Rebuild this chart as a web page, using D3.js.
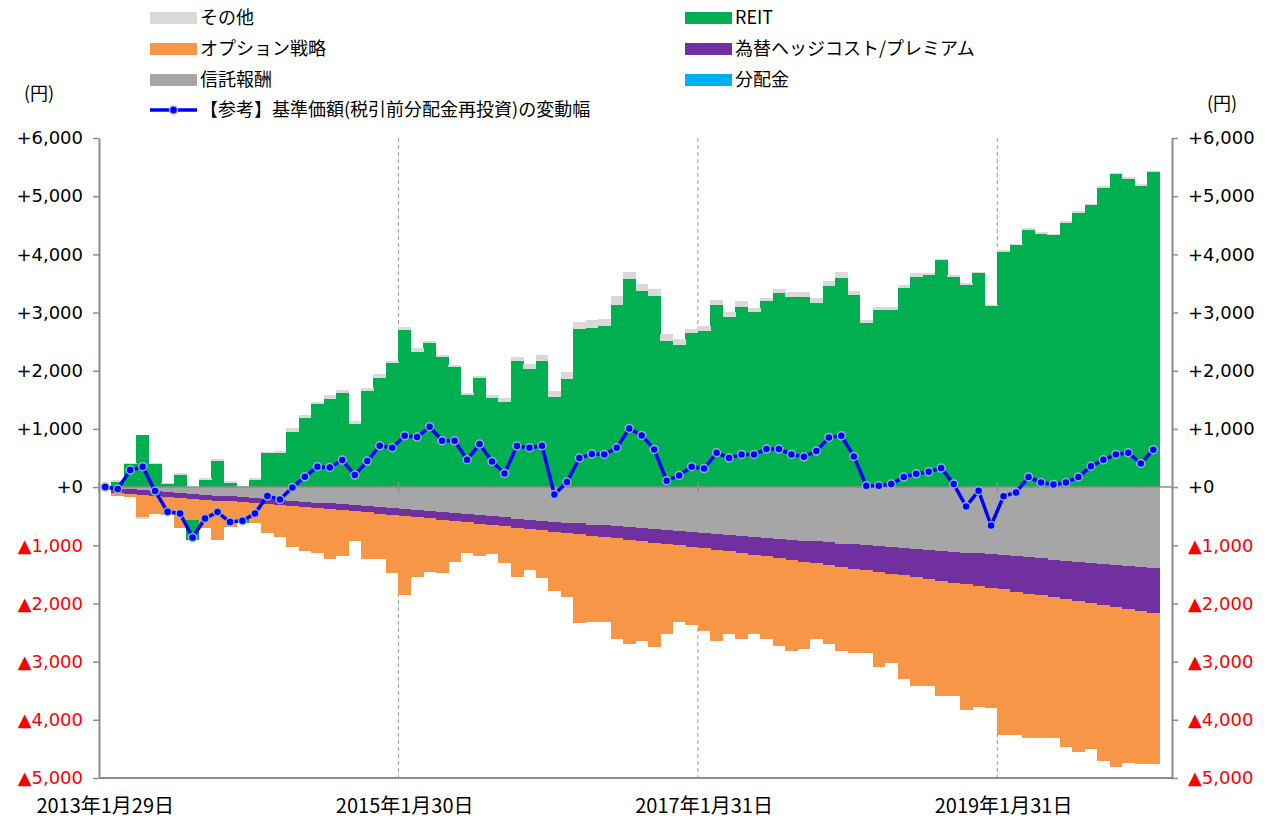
<!DOCTYPE html>
<html>
<head>
  <meta charset='utf-8'>
  <title>基準価額の変動要因</title>
  <script src="https://cdnjs.cloudflare.com/ajax/libs/d3/7.8.5/d3.min.js"></script>
  <style>
    body { margin: 0; background: #fff; }
    .tick-text { font-family: 'DejaVu Sans', Verdana, sans-serif; font-size: 18px; }
    .jp { font-family: 'Noto Sans CJK JP', sans-serif; }
  </style>
</head>
<body>
  <svg width="1274" height="819" id="chart"></svg>
  <script>
    // month index 0 = 2013/1 ... 84 = 2020/1
    const tickIdx = [0, 24, 48, 72];
    const tickLabels = ['2013年1月29日', '2015年1月30日', '2017年1月31日', '2019年1月31日'];
    const yTicks = [-5000, -4000, -3000, -2000, -1000, 0, 1000, 2000, 3000, 4000, 5000, 6000];

    const reit = [0, 90, 395, 894, 390, 46, 206, -344, 120, 447, 63, -58, 120, 579, 590, 951, 1186, 1427, 1518, 1610,
      1077, 1645, 1879, 2126, 2699, 2326, 2470, 2240, 2057, 1581, 1879, 1525, 1467, 2166, 2034, 2171, 1552, 1851, 2711, 2739,
      2768, 3129, 3576, 3369, 3283, 2510, 2447, 2653, 2687, 3129, 2928, 3100, 3014, 3197, 3340, 3260, 3260, 3169, 3455, 3598,
      3300, 2814, 3043, 3043, 3426, 3604, 3639, 3902, 3615, 3472, 3673, 3111, 4043, 4160, 4425, 4357, 4329, 4533, 4717, 4853,
      5145, 5384, 5301, 5179, 5417];
    const other = [0, 40, 25, -35, 30, 17, 29, 0, 29, 29, 34, 15, 35, 23, 35, 57, 57, 40, 58, 63,
      57, 51, 63, 45, 46, 58, 45, 29, 35, 40, 34, 56, 68, 69, 80, 93, 98, 120, 131, 126,
      120, 154, 120, 121, 115, 120, 92, 63, 81, 86, 86, 97, 57, 57, 58, 86, 86, 85, 86, 98,
      69, 57, 57, 57, 46, 69, 34, 17, 29, 40, 17, 18, 28, 19, 27, 26, 27, 34, 34, 20,
      27, 19, 28, 28, 20];
    const option = [0, -45, -41, -381, -315, -311, -524, -366, -494, -680, -436, -294, -335, -501, -541, -706, -744, -762, -859, -785,
      -505, -808, -786, -1012, -1368, -1028, -923, -926, -701, -526, -553, -505, -633, -844, -705, -828, -1015, -1108, -1522, -1478,
      -1456, -1737, -1795, -1716, -1803, -1552, -1324, -1348, -1420, -1569, -1425, -1478, -1364, -1421, -1513, -1566, -1508, -1309, -1361, -1447,
      -1448, -1418, -1630, -1542, -1782, -1868, -1838, -1986, -1951, -2157, -2076, -2075, -2493, -2458, -2476, -2446, -2411, -2532, -2585, -2515,
      -2685, -2752, -2653, -2632, -2597];
    const hedge = [0, -85, -85, -85, -85, -85, -86, -86, -86, -86, -86, -86, -88, -90, -93, -96, -100, -102, -104, -106,
      -108, -110, -112, -112, -114, -118, -123, -128, -133, -138, -142, -147, -152, -157, -162, -167, -172, -179, -186, -193,
      -200, -207, -214, -221, -228, -235, -242, -249, -255, -268, -282, -295, -308, -322, -335, -348, -362, -375, -388, -402,
      -415, -430, -444, -459, -473, -488, -503, -517, -532, -546, -561, -575, -590, -605, -620, -635, -650, -665, -680, -695,
      -710, -725, -740, -755, -770];
    const fee = [0, -25, -40, -55, -70, -85, -100, -115, -130, -145, -160, -175, -190, -205, -220, -235, -250, -265, -280, -295,
      -310, -325, -345, -360, -375, -395, -410, -430, -450, -465, -485, -505, -520, -540, -560, -575, -595, -610, -625, -645,
      -660, -675, -690, -710, -725, -740, -755, -775, -790, -805, -820, -840, -855, -870, -885, -905, -920, -935, -950, -970,
      -985, -1000, -1015, -1030, -1045, -1060, -1075, -1090, -1110, -1125, -1140, -1155, -1170, -1190, -1210, -1225, -1245, -1265, -1280, -1300,
      -1320, -1340, -1355, -1375, -1395];
    const dist = new Array(reit.length).fill(0);
    const nav = [0, -34, 292, 350, -69, -424, -453, -865, -539, -430, -602, -579, -453, -155, -212, -6, 177, 350, 338, 464,
      206, 447, 710, 676, 882, 860, 1037, 796, 796, 470, 739, 441, 235, 705, 676, 710, -126, 86, 498, 567,
      562, 676, 1009, 888, 648, 109, 201, 350, 318, 590, 498, 562, 562, 653, 653, 562, 521, 619, 854, 882,
      527, 23, 23, 52, 172, 229, 263, 327, 52, -332, -63, -660, -157, -91, 175, 79, 45, 79, 175, 358,
      468, 562, 590, 406, 643];

    const keys = ['dist', 'fee', 'hedge', 'option', 'reit', 'other'];
    const colors = {
      other: '#d9d9d9', reit: '#00b050', option: '#f79646',
      hedge: '#7030a0', fee: '#a6a6a6', dist: '#00b0f0'
    };
    const names = {
      other: 'その他', reit: 'REIT', option: 'オプション戦略',
      hedge: '為替ヘッジコスト/プレミアム', fee: '信託報酬', dist: '分配金'
    };

    const rows = reit.map((d, i) => ({
      i: i, reit: reit[i], other: other[i], option: option[i],
      hedge: hedge[i], fee: fee[i], dist: dist[i]
    }));

    const plotL = 99, plotR = 1172, plotT = 138, plotB = 778;
    const svg = d3.select('#chart');

    const x = d3.scaleBand()
      .domain(d3.range(reit.length + 1))
      .range([plotL, plotR])
      .paddingInner(0).paddingOuter(0);
    const y = d3.scaleLinear().domain([-5000, 6000]).range([plotB, plotT]);

    const series = d3.stack().keys(keys).offset(d3.stackOffsetDiverging)(rows);

    // dashed gridlines
    svg.append('g').selectAll('line')
      .data(tickIdx.slice(1))
      .join('line')
      .attr('x1', d => x(d)).attr('x2', d => x(d))
      .attr('y1', plotT).attr('y2', plotB)
      .attr('stroke', '#999').attr('stroke-width', 1)
      .attr('stroke-dasharray', '4,3');

    // bars
    svg.append('g').selectAll('g')
      .data(series)
      .join('g')
      .attr('fill', d => colors[d.key])
      .selectAll('rect')
      .data(d => d)
      .join('rect')
      .attr('x', d => x(d.data.i))
      .attr('width', x.bandwidth() + 0.3)
      .attr('y', d => y(Math.max(d[0], d[1])))
      .attr('height', d => Math.abs(y(d[0]) - y(d[1])))
      .attr('shape-rendering', 'crispEdges');

    // zero line with crossing ticks
    svg.append('line')
      .attr('x1', plotL).attr('x2', plotR)
      .attr('y1', y(0)).attr('y2', y(0))
      .attr('stroke', '#8c8c8c').attr('stroke-width', 1.5);
    svg.append('g').selectAll('line')
      .data(tickIdx)
      .join('line')
      .attr('x1', d => x(d)).attr('x2', d => x(d))
      .attr('y1', y(0) - 5).attr('y2', y(0) + 5)
      .attr('stroke', '#8c8c8c').attr('stroke-width', 1.5);

    // bottom line
    svg.append('line')
      .attr('x1', plotL).attr('x2', plotR)
      .attr('y1', plotB).attr('y2', plotB)
      .attr('stroke', '#8c8c8c').attr('stroke-width', 2);

    const fmt = v => v > 0 ? '+' + d3.format(',')(v) : (v === 0 ? '+0' : '▲' + d3.format(',')(-v));

    const yl = svg.append('g')
      .attr('transform', `translate(${plotL},0)`)
      .call(d3.axisLeft(y).tickValues(yTicks).tickFormat(fmt).tickSize(6).tickSizeOuter(0).tickPadding(10));
    const yr = svg.append('g')
      .attr('transform', `translate(${plotR},0)`)
      .call(d3.axisRight(y).tickValues(yTicks).tickFormat(fmt).tickSize(6).tickSizeOuter(0).tickPadding(10));
    [yl, yr].forEach(g => {
      g.select('.domain').attr('stroke', '#8c8c8c').attr('stroke-width', 2);
      g.selectAll('.tick line').attr('stroke', '#8c8c8c').attr('stroke-width', 1.5);
      g.selectAll('.tick text')
        .attr('class', 'tick-text')
        .attr('fill', d => d < 0 ? '#ff0000' : '#000');
    });

    // x labels
    svg.append('g').selectAll('text')
      .data(tickIdx)
      .join('text')
      .attr('class', 'jp')
      .attr('x', d => x(d) + x.bandwidth() / 2)
      .attr('y', 813)
      .attr('text-anchor', 'middle')
      .attr('font-size', 20)
      .text((d, k) => tickLabels[k]);

    // NAV line
    const cx = i => x(i) + x.bandwidth() / 2;
    svg.append('path')
      .datum(nav)
      .attr('fill', 'none')
      .attr('stroke', '#0000ff')
      .attr('stroke-width', 3.5)
      .attr('stroke-linejoin', 'round')
      .attr('d', d3.line().x((d, i) => cx(i)).y(d => y(d)));
    svg.append('g').selectAll('circle')
      .data(nav)
      .join('circle')
      .attr('cx', (d, i) => cx(i))
      .attr('cy', d => y(d))
      .attr('r', 4)
      .attr('fill', '#0000ff')
      .attr('stroke', '#8db4e2')
      .attr('stroke-width', 1.5);

    // units
    svg.append('text').attr('class', 'jp').attr('x', 24).attr('y', 100)
      .attr('font-size', 18).text('(円)');
    svg.append('text').attr('class', 'jp').attr('x', 1207).attr('y', 110)
      .attr('font-size', 18).text('(円)');

    // legend
    const legendItems = [
      { key: 'other', col: 0, row: 0 }, { key: 'reit', col: 1, row: 0 },
      { key: 'option', col: 0, row: 1 }, { key: 'hedge', col: 1, row: 1 },
      { key: 'fee', col: 0, row: 2 }, { key: 'dist', col: 1, row: 2 }
    ];
    const colX = [150, 685], rowY = [18, 49, 80, 110];
    const lg = svg.append('g');
    legendItems.forEach(it => {
      lg.append('rect')
        .attr('x', colX[it.col]).attr('y', rowY[it.row] - 6)
        .attr('width', 47).attr('height', 12)
        .attr('fill', colors[it.key]);
      lg.append('text').attr('class', 'jp')
        .attr('x', colX[it.col] + 50).attr('y', rowY[it.row] + 6)
        .attr('font-size', 18)
        .text(names[it.key]);
    });
    lg.append('line')
      .attr('x1', colX[0]).attr('x2', colX[0] + 47)
      .attr('y1', rowY[3]).attr('y2', rowY[3])
      .attr('stroke', '#0000ff').attr('stroke-width', 3.5);
    lg.append('circle')
      .attr('cx', colX[0] + 23.5).attr('cy', rowY[3]).attr('r', 4)
      .attr('fill', '#0000ff').attr('stroke', '#8db4e2').attr('stroke-width', 1.5);
    lg.append('text').attr('class', 'jp')
      .attr('x', colX[0] + 50).attr('y', rowY[3] + 6)
      .attr('font-size', 18)
      .text('【参考】基準価額(税引前分配金再投資)の変動幅');
  </script>
</body>
</html>
